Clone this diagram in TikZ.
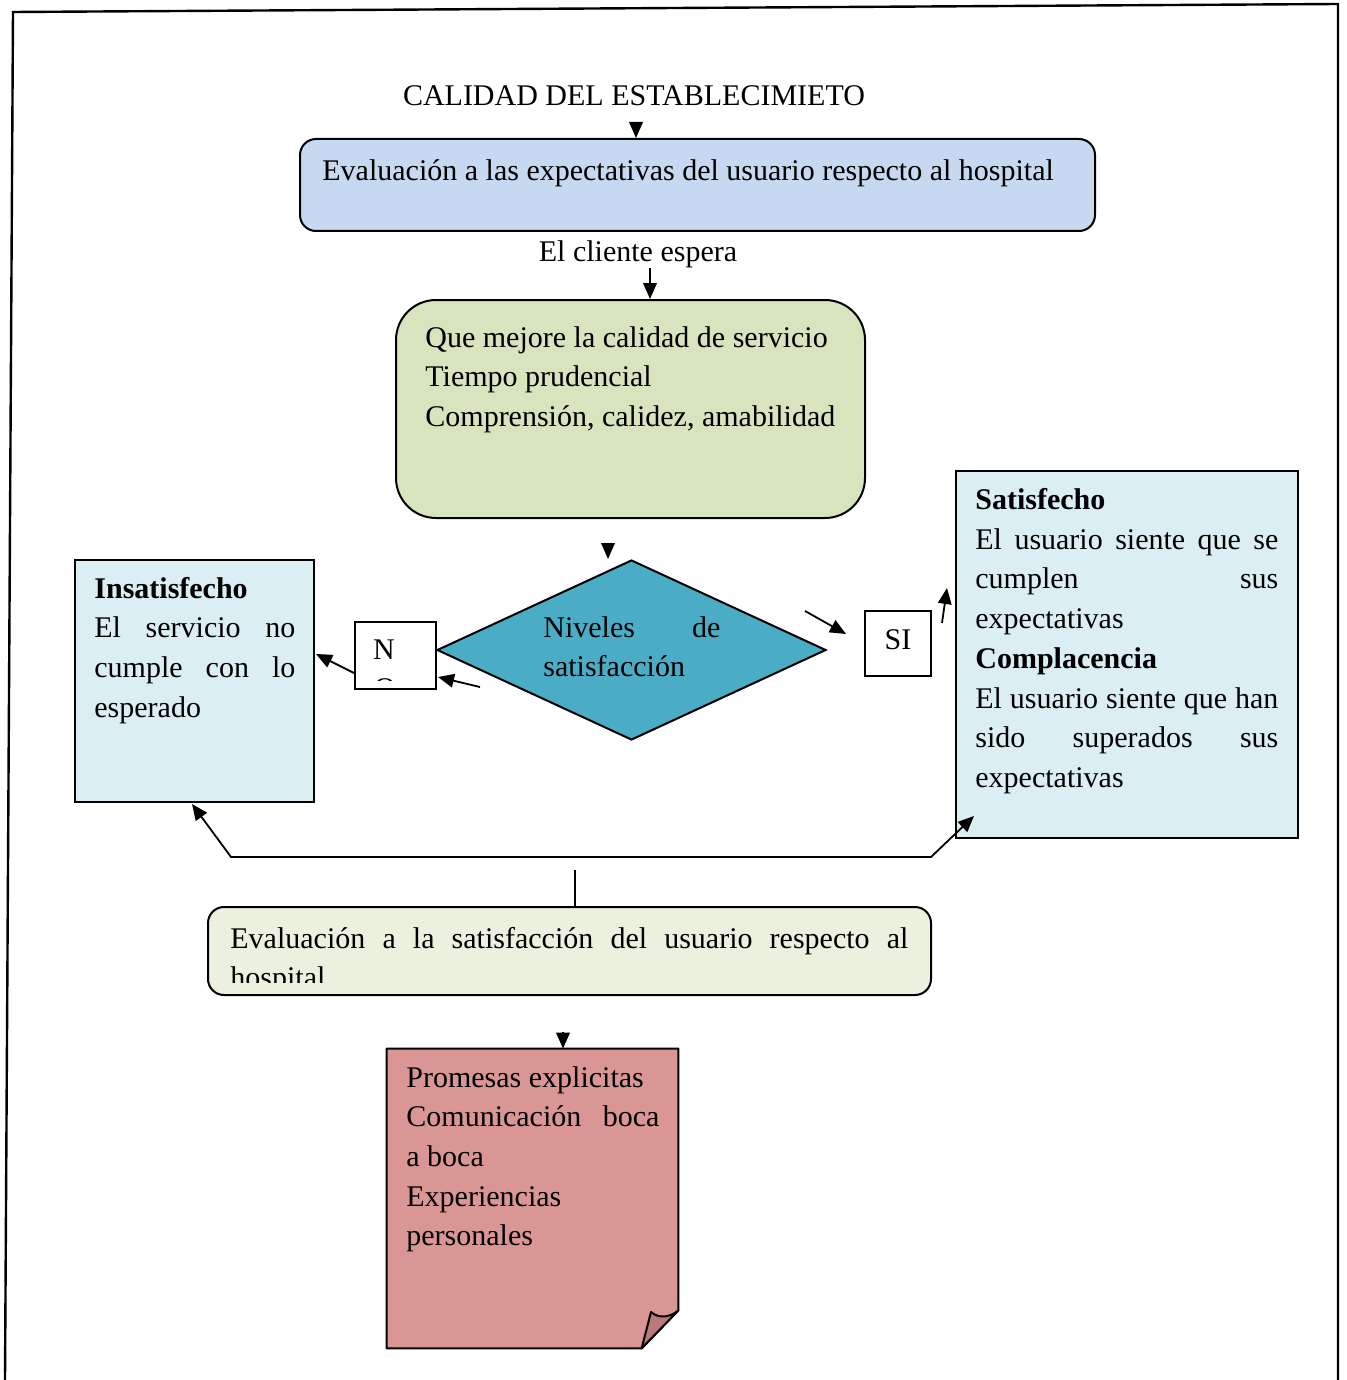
\documentclass[tikz,border=0pt]{standalone}
\usepackage{fontspec}
\setmainfont{Liberation Serif}
\usetikzlibrary{shapes.geometric,fit,calc,arrows.meta}

\definecolor{expectFill}{HTML}{C6D9F1}
\definecolor{wantsFill}{HTML}{D7E4BD}
\definecolor{levelFill}{HTML}{4BACC6}
\definecolor{resultFill}{HTML}{DBEEF3}
\definecolor{evalFill}{HTML}{EBF1DE}
\definecolor{noteFill}{HTML}{D99694}
\definecolor{curlFill}{HTML}{B97A78}

% a line stretched to the full text width
\newcommand\jline[1]{\makebox[\hsize][s]{#1}}

\begin{document}
\begin{tikzpicture}[x=0.5pt,y=-0.5pt,
  txt/.style={inner sep=0, anchor=base west, align=flush left,
              font=\fontsize{15}{19.85}\selectfont},
  shapebox/.style={draw, line width=1pt, inner sep=0},
  arr/.style={line width=0.9pt, -{Triangle[length=8pt,width=6.8pt]}},
  arrboth/.style={line width=0.9pt,
                  {Triangle[length=8pt,width=6.8pt]}-{Triangle[length=8pt,width=6.8pt]}}]

\useasboundingbox (0,0) rectangle (1347,1380);

% page frame
\draw[line width=1.2pt] (5,1380) -- (13,12) -- (1338,4) -- (1338,1380);

% title and expectations box
\node[inner sep=0, anchor=base, font=\fontsize{15}{19.85}\selectfont] (title) at (634,106)
  {CALIDAD DEL ESTABLECIMIETO};
\node[shapebox, fit={(300,139) (1095,231)}, rounded corners=8pt, fill=expectFill] (expect) {};
\node[txt] (expectT) at (322,181) {Evaluación a las expectativas del usuario respecto al hospital};

\node[txt, anchor=base] (espera) at (638,262) {El cliente espera};

% what the client expects
\node[shapebox, fit={(396,300) (865,518)}, rounded corners=20pt, fill=wantsFill] (wants) {};
\node[txt, text width=215pt] (wantsT) at (425,347)
  {Que mejore la calidad de servicio\\Tiempo prudencial\\Comprensión, calidez, amabilidad};

% decision diamond
\node[shapebox, diamond, minimum width=194.5pt, minimum height=90pt, fill=levelFill] (levels) at (631.5,650) {};
\node[txt, text width=88.5pt] (levelsT) at (543,637) {\jline{Niveles de}\\satisfacción};

% NO branch
\node[shapebox, fit={(355,622) (436,689)}, fill=white] (nbox) {};
\node[txt, anchor=base] (nT) at (384,659) {N};
\begin{scope}
  \clip (356,623) rectangle (435,680.5);
  \node[txt, anchor=base] (oT) at (385,698) {O};
\end{scope}

\node[shapebox, fit={(75,560) (314,802)}, fill=resultFill] (insat) {};
\node[txt, text width=100.5pt] (insatT) at (94,598)
  {\textbf{Insatisfecho}\\\jline{El servicio no}\\\jline{cumple con lo}\\esperado};

% YES branch
\node[shapebox, fit={(865,611) (931,676)}, fill=white] (sibox) {};
\node[txt, anchor=base] (siT) at (898,649) {SI};

\node[shapebox, fit={(956,471) (1298,838)}, fill=resultFill] (sat) {};
\node[txt, text width=151.5pt] (satT) at (975,509.5)
  {\textbf{Satisfecho}\\\jline{El usuario siente que se}\\\jline{cumplen sus}\\expectativas\\
   \textbf{Complacencia}\\\jline{El usuario siente que han}\\\jline{sido superados sus}\\expectativas};

% satisfaction evaluation
\node[shapebox, fit={(208,907) (931,995)}, rounded corners=8pt, fill=evalFill] (evalsat) {};
\begin{scope}
  \clip (209,908) rectangle (930,982);
  \node[txt, text width=339pt] (evalT) at (230,948)
    {\jline{Evaluación a la satisfacción del usuario respecto al}\\hospital};
\end{scope}

% folded note
\node[fit={(387,1049) (678,1348)}, inner sep=0] (note) {};
\filldraw[line width=1pt, fill=noteFill, line join=round]
  (note.north west) -- (note.north east) -- ($(note.south east)+(0,-38)$)
  -- ($(note.south west)+(255,0)$) -- (note.south west) -- cycle;
\filldraw[line width=1pt, fill=curlFill, line join=round]
  ($(note.south west)+(255,0)$) .. controls (646,1330) .. (651,1312)
  .. controls (660,1320) and (672,1316) .. ($(note.south east)+(0,-38)$) -- cycle;
\node[txt, text width=126.5pt] (noteT) at (406,1087)
  {Promesas explicitas\\\jline{Comunicación boca}\\a boca\\Experiencias\\personales};

% connectors
\coordinate (t0) at (636,122);
\draw[arr] (t0) -- (t0 |- expect.north);
\coordinate (c0) at (650,268);
\draw[arr] (c0) -- (c0 |- wants.north);
\coordinate (d0) at (608,543);
\coordinate (d1) at (608,559);
\draw[arr] (d0) -- (d1);
\draw[arr] ($(nbox.south west)+(0,-17)$) -- ($(insat.north east)+(1,95)$);
\coordinate (n0) at (480,687);
\draw[arr] (n0) -- ($(nbox.south east)+(1,-13)$);
\coordinate (s0) at (805,611);
\coordinate (s1) at (846,634);
\draw[arr] (s0) -- (s1);
\coordinate (s2) at (942,623);
\coordinate (s3) at (947,588);
\draw[arr] (s2) -- (s3);
\coordinate (e0) at (575,870);
\draw[line width=0.9pt] (e0) -- (e0 |- evalsat.north);
\draw[arrboth] ($(insat.south west)+(118,1)$) -- (231,857) -- (931,857) -- ($(sat.south west)+(19,-23)$);
\coordinate (l0) at (563,1032);
\draw[arr] (l0) -- (l0 |- note.north);

\end{tikzpicture}
\end{document}
